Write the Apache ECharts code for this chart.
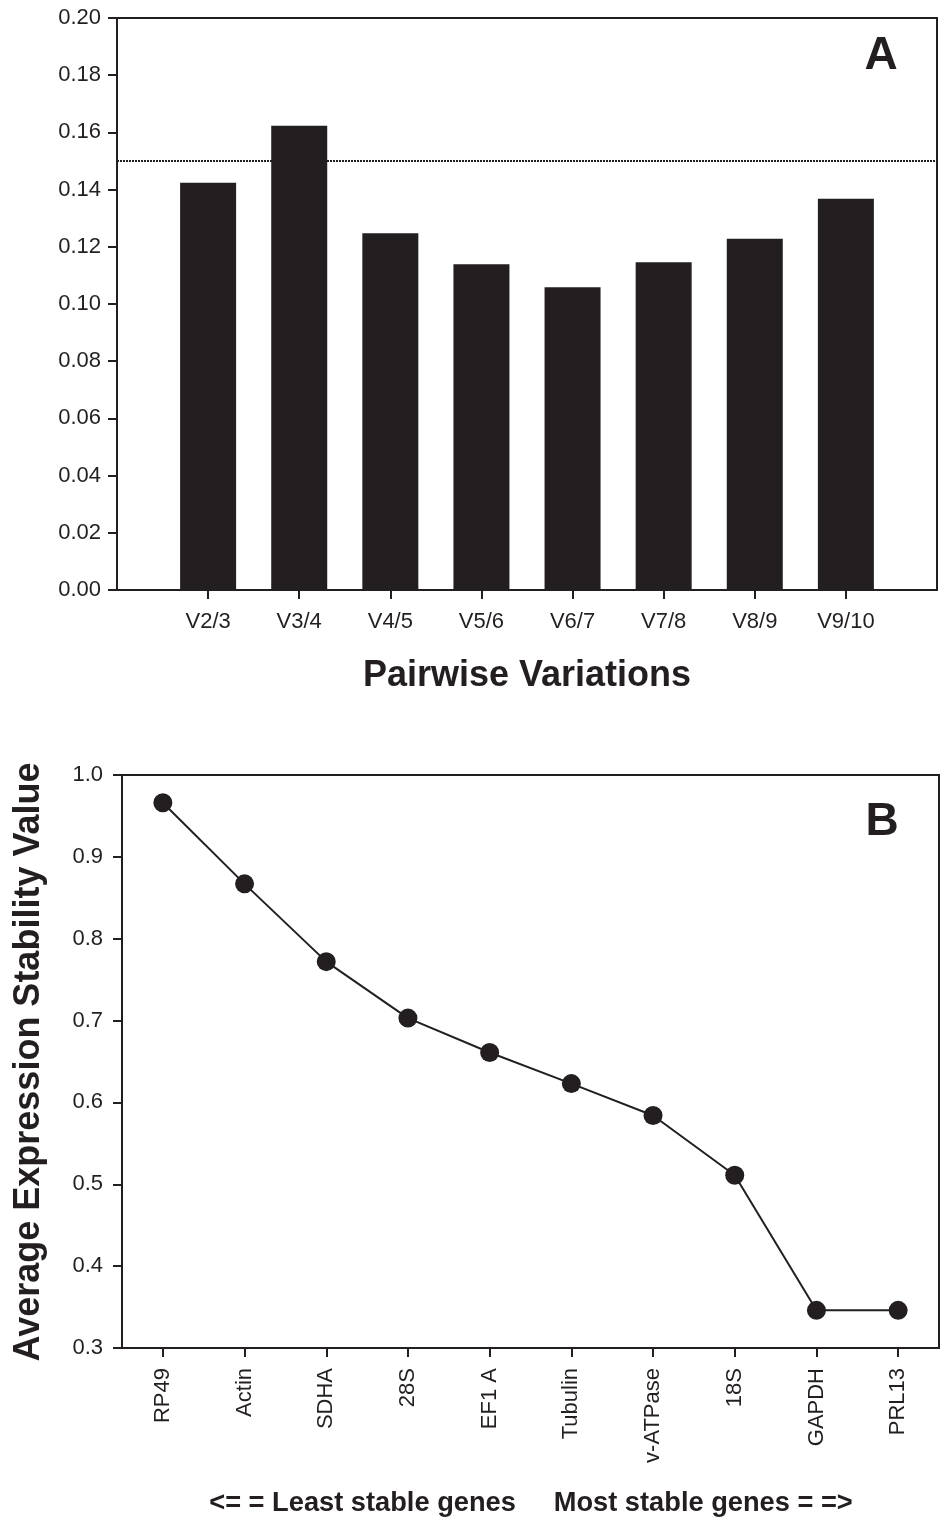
<!DOCTYPE html>
<html>
<head>
<meta charset="utf-8">
<script src="https://cdn.jsdelivr.net/npm/echarts@6/dist/echarts.min.js"></script>
<style>
html,body{margin:0;padding:0;background:#fff;}
#chart{width:943px;height:1517px;}
</style>
</head>
<body>
<div id="chart"></div>
<script>
// Panel A data
var pairCategories = ['V2/3','V3/4','V4/5','V5/6','V6/7','V7/8','V8/9','V9/10'];
var pairValues = [0.1424, 0.1623, 0.1247, 0.1139, 0.1059, 0.1146, 0.1228, 0.1368];
var cutoffValue = 0.15;
// Panel B data
var geneCategories = ['RP49','Actin','SDHA','28S','EF1 A','Tubulin','v-ATPase','18S','GAPDH','PRL13'];
var stabilityValues = [0.966, 0.867, 0.772, 0.703, 0.661, 0.623, 0.584, 0.511, 0.346, 0.346];

var ink = '#231f20';
var font = '"Liberation Sans", Arial, Helvetica, sans-serif';

var chart = echarts.init(document.getElementById('chart'), null, {renderer:'canvas'});

var barData = pairValues.map(function(v,i){ return [i+1, v]; });
var xPositions = pairCategories.map(function(c,i){ return i+1; });

var option = {
  backgroundColor: '#fff',
  animation: false,
  grid: [
    {left:117, top:18, width:820, height:572, show:true, borderColor:ink, borderWidth:2, backgroundColor:'transparent'},
    {left:122, top:775, width:817, height:573, show:true, borderColor:ink, borderWidth:2, backgroundColor:'transparent'}
  ],
  xAxis: [
    {
      type:'value', gridIndex:0, min:0, max:9, interval:1,
      splitLine:{show:false},
      axisLine:{show:true, onZero:false, lineStyle:{color:ink, width:2}},
      axisTick:{show:true, inside:false, length:9, customValues:xPositions, lineStyle:{color:ink, width:2}},
      axisLabel:{show:true, margin:21, customValues:xPositions, color:ink, fontFamily:font, fontSize:22,
        formatter:function(v){ var i=Math.round(v)-1; return pairCategories[i]||''; }}
    },
    {
      type:'category', gridIndex:1, data:geneCategories, boundaryGap:true,
      axisLine:{show:true, onZero:false, lineStyle:{color:ink, width:2}},
      axisTick:{show:true, alignWithLabel:true, length:9, lineStyle:{color:ink, width:2}},
      axisLabel:{show:true, rotate:90, margin:20, color:ink, fontFamily:font, fontSize:22, interval:0},
      splitLine:{show:false}
    }
  ],
  yAxis: [
    {
      type:'value', gridIndex:0, min:0, max:0.2, interval:0.02,
      splitLine:{show:false},
      axisLine:{show:true, onZero:false, lineStyle:{color:ink, width:2}},
      axisTick:{show:true, length:9, lineStyle:{color:ink, width:2}},
      axisLabel:{margin:16, color:ink, fontFamily:font, fontSize:22,
        formatter:function(v){ return v.toFixed(2); }}
    },
    {
      type:'value', gridIndex:1, min:0.3, max:1.0, interval:0.1,
      splitLine:{show:false},
      axisLine:{show:true, onZero:false, lineStyle:{color:ink, width:2}},
      axisTick:{show:true, length:9, lineStyle:{color:ink, width:2}},
      axisLabel:{margin:19, color:ink, fontFamily:font, fontSize:22,
        formatter:function(v){ return v.toFixed(1); }}
    }
  ],
  series: [
    {
      type:'bar', xAxisIndex:0, yAxisIndex:0, data:barData, barWidth:56,
      itemStyle:{color:ink},
      markLine:{
        silent:true, symbol:['none','none'], label:{show:false},
        lineStyle:{color:ink, type:[2,1], width:2},
        data:[{yAxis:cutoffValue}]
      }
    },
    {
      type:'line', xAxisIndex:1, yAxisIndex:1, data:stabilityValues,
      symbol:'circle', symbolSize:19,
      lineStyle:{color:ink, width:2},
      itemStyle:{color:ink}
    }
  ],
  graphic: [
    {type:'text', x:527, y:676, style:{text:'Pairwise Variations', font:'bold 36px '+font, fill:ink, textAlign:'center', textVerticalAlign:'middle'}},
    {type:'text', x:881, y:56, style:{text:'A', font:'bold 46px '+font, fill:ink, textAlign:'center', textVerticalAlign:'middle'}},
    {type:'text', x:882, y:822, style:{text:'B', font:'bold 46px '+font, fill:ink, textAlign:'center', textVerticalAlign:'middle'}},
    {type:'text', x:29, y:1062, rotation:Math.PI/2, style:{text:'Average Expression Stability Value', font:'bold 36px '+font, fill:ink, textAlign:'center', textVerticalAlign:'middle'}},
    {type:'text', x:531, y:1503, scaleX:0.973, style:{text:'<= = Least stable genes     Most stable genes = =>', font:'bold 28px '+font, fill:ink, textAlign:'center', textVerticalAlign:'middle'}}
  ]
};
chart.setOption(option);
</script>
</body>
</html>
